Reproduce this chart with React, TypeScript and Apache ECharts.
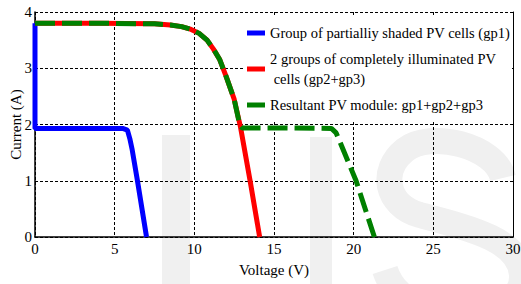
import React, { useEffect, useRef } from "react";
import * as echarts from "echarts";

// Group of partially shaded PV cells (gp1)
const gp1Voltage = [0, 0, 5.5, 5.8, 5.95, 6.1, 6.43, 7.0];
const gp1Current = [3.8, 1.93, 1.93, 1.9, 1.75, 1.55, 1.0, 0];

// 2 groups of completely illuminated PV cells (gp2+gp3)
const gp23Voltage = [0, 4, 7.5, 8.5, 9.2, 9.8, 10.3, 10.8, 11.2, 11.6, 12.0, 12.5, 12.9, 13.5, 14.1];
const gp23Current = [3.8, 3.8, 3.79, 3.77, 3.74, 3.69, 3.62, 3.5, 3.34, 3.15, 2.85, 2.45, 1.95, 1.0, 0];

// Resultant PV module (gp1+gp2+gp3)
const moduleVoltage = [0, 4, 7.5, 8.5, 9.2, 9.8, 10.3, 10.8, 11.2, 11.6, 12.0, 12.5, 12.85, 13.0, 15, 18.6, 18.9, 19.2, 20.15, 21.3];
const moduleCurrent = [3.8, 3.8, 3.79, 3.77, 3.74, 3.69, 3.62, 3.5, 3.34, 3.15, 2.85, 2.45, 1.99, 1.94, 1.94, 1.93, 1.85, 1.65, 1.0, 0];

const seriesNames = [
  "Group of partialliy shaded PV cells (gp1)",
  "2 groups of completely illuminated PV\n cells (gp2+gp3)",
  "Resultant PV module: gp1+gp2+gp3",
];

const xMin = 0;
const xMax = 30;
const xStep = 5;
const yMin = 0;
const yMax = 4;
const yStep = 1;

const FONT = "'Liberation Serif', 'Times New Roman', serif";

const watermarkS =
  "M 503 178 C 495 145 430 130 405 150 C 380 170 385 205 420 215 C 470 228 520 240 522 275 C 524 310 470 320 420 305 C 400 298 390 285 385 270";
echarts.graphic.registerShape("wmS", (echarts.graphic as any).extendPath(watermarkS, {}));

const zip = (xs: number[], ys: number[]) => xs.map((x, i) => [x, ys[i]]);

export default function App() {
  const ref = useRef<HTMLDivElement>(null);
  useEffect(() => {
    if (!ref.current) return;
    const chart = echarts.init(ref.current, undefined, { renderer: "svg" });
    const gridLine = { show: true, lineStyle: { color: "#000", width: 1, type: [3, 2] as any } };
    chart.setOption({
      animation: false,
      backgroundColor: "#fff",
      textStyle: { fontFamily: FONT },
      graphic: [
        { type: "rect", z: -5, silent: true, shape: { x: 162, y: 135, width: 28, height: 149 }, style: { fill: "#f0f0f0" } },
        { type: "rect", z: -5, silent: true, shape: { x: 310, y: 137, width: 22, height: 147 }, style: { fill: "#f0f0f0" } },
        { type: "wmS", z: -5, silent: true, x: 0, y: 0, style: { fill: "none", stroke: "#f0f0f0", lineWidth: 26 } },
      ],
      grid: { left: 35, right: 8, top: 12, bottom: 47, containLabel: false, outerBoundsMode: "none" },
      legend: {
        orient: "vertical",
        left: 243,
        top: 15,
        padding: [8, 2, 5, 4],
        backgroundColor: "#fff",
        itemGap: 6,
        icon: "rect",
        itemWidth: 18,
        itemHeight: 5,
        textStyle: { fontFamily: FONT, fontSize: 14.5, color: "#000", lineHeight: 20 },
        data: seriesNames,
      },
      xAxis: {
        type: "value",
        min: xMin,
        max: xMax,
        interval: xStep,
        name: "Voltage (V)",
        nameLocation: "middle",
        nameGap: 25,
        nameMoveOverlap: false,
        nameTextStyle: { fontFamily: FONT, fontSize: 15, color: "#000" },
        axisLine: { show: true, onZero: false, lineStyle: { color: "#000", width: 1.5 } },
        axisTick: { show: false },
        axisLabel: { fontFamily: FONT, fontSize: 15, color: "#000", margin: 4 },
        splitLine: gridLine,
      },
      yAxis: [
        {
          type: "value",
          min: yMin,
          max: yMax,
          interval: yStep,
          name: "Current (A)",
          nameLocation: "middle",
          nameGap: 12,
          nameMoveOverlap: false,
          nameRotate: 90,
          nameTextStyle: { fontFamily: FONT, fontSize: 15, color: "#000" },
          axisLine: { show: true, onZero: false, lineStyle: { color: "#000", width: 1.5 } },
          axisTick: { show: false },
          axisLabel: { fontFamily: FONT, fontSize: 15, color: "#000", margin: 3, padding: [7, 0, 0, 0] },
          splitLine: gridLine,
        },
        {
          type: "value",
          min: yMin,
          max: yMax,
          interval: yStep,
          position: "right",
          axisLine: { show: true, onZero: false, lineStyle: { color: "#000", width: 1 } },
          axisTick: { show: false },
          axisLabel: { show: false },
          splitLine: { show: false },
        },
      ],
      series: [
        {
          name: seriesNames[0],
          type: "line",
          data: zip(gp1Voltage, gp1Current),
          showSymbol: false,
          symbol: "none",
          lineStyle: { color: "#0000ff", width: 5 },
          itemStyle: { color: "#0000ff" },
          z: 3,
        },
        {
          name: seriesNames[1],
          type: "line",
          data: zip(gp23Voltage, gp23Current),
          showSymbol: false,
          symbol: "none",
          lineStyle: { color: "#ff0000", width: 5 },
          itemStyle: { color: "#ff0000" },
          z: 4,
        },
        {
          name: seriesNames[2],
          type: "line",
          data: zip(moduleVoltage, moduleCurrent),
          showSymbol: false,
          symbol: "none",
          lineStyle: { color: "#008000", width: 5, type: [20, 7] as any, cap: "butt" },
          itemStyle: { color: "#008000" },
          z: 5,
        },
      ],
    });
    return () => chart.dispose();
  }, []);
  return <div ref={ref} style={{ position: "fixed", left: 0, top: 0, width: 521, height: 284 }} />;
}
